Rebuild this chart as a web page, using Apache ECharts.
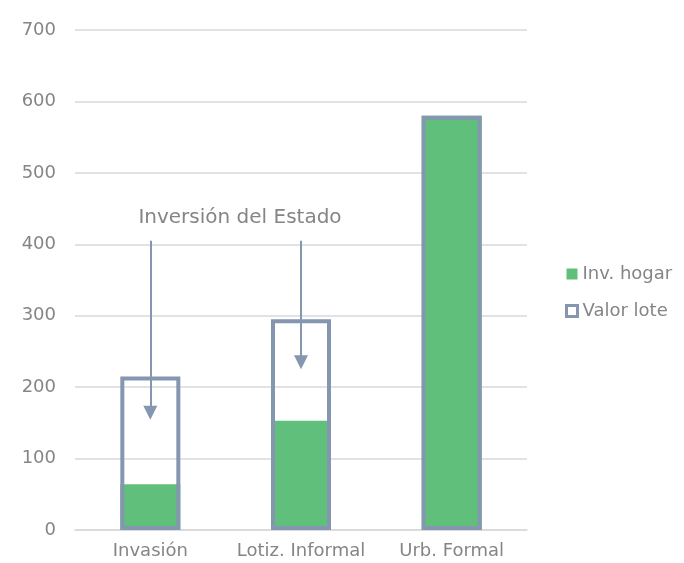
<!DOCTYPE html>
<html>
<head>
<meta charset="utf-8">
<script src="https://cdn.jsdelivr.net/npm/echarts@6/dist/echarts.min.js"></script>
<style>
  html, body { margin: 0; padding: 0; background: #fff; }
  #chart { width: 684px; height: 563px; }
</style>
</head>
<body>
<div id="chart"></div>
<script>
var categories = ['Invasión', 'Lotiz. Informal', 'Urb. Formal'];
var invHogar = [64, 153, 580];
var valorLote = [215, 295, 580];
// flechas "Inversión del Estado": [categoria, desde, hasta]
var arrows = [['Invasión', 405, 164], ['Lotiz. Informal', 405, 235]];

var green = '#60bf7b';
var slate = '#8496b0';
var txt = '#858585';
var font = 'DejaVu Sans';

var chart = echarts.init(document.getElementById('chart'));

chart.setOption({
  animation: false,
  grid: { left: 75, right: 157, top: 30, bottom: 33 },
  legend: {
    orient: 'vertical',
    left: 560,
    top: 260,
    itemGap: 19,
    itemWidth: 11,
    itemHeight: 11,
    textStyle: { color: txt, fontSize: 18, fontFamily: font, padding: [0, 0, 0, 0] },
    data: [
      { name: 'Inv. hogar', icon: 'rect', itemStyle: { color: green, borderWidth: 0 } },
      { name: 'Valor lote', icon: 'rect', itemStyle: { color: '#fff', borderColor: slate, borderWidth: 3 } }
    ]
  },
  xAxis: {
    type: 'category',
    data: categories,
    axisTick: { show: false },
    axisLine: { lineStyle: { color: '#d9d9d9', width: 1.5 } },
    axisLabel: { color: txt, fontSize: 18, fontFamily: font, margin: 12, interval: 0 }
  },
  yAxis: {
    type: 'value',
    min: 0,
    max: 700,
    interval: 100,
    axisLabel: { color: txt, fontSize: 18, fontFamily: font, margin: 19 },
    splitLine: { lineStyle: { color: '#d9d9d9', width: 1.5 } }
  },
  graphic: [{
    type: 'text',
    x: 240,
    y: 218,
    style: {
      text: 'Inversión del Estado',
      fill: txt,
      font: '20px ' + font,
      align: 'center',
      verticalAlign: 'middle'
    }
  }],
  series: [
    {
      name: 'Inv. hogar',
      type: 'bar',
      data: invHogar,
      barWidth: 60,
      itemStyle: { color: green }
    },
    {
      name: 'Valor lote',
      type: 'bar',
      data: valorLote,
      barWidth: 60,
      barGap: '-100%',
      itemStyle: { color: 'rgba(0,0,0,0)', borderColor: slate, borderWidth: 4 },
      markLine: {
        silent: true,
        symbol: ['none', 'triangle'],
        symbolSize: [14, 14],
        label: { show: false },
        lineStyle: { color: slate, width: 2, type: 'solid' },
        data: arrows.map(function (a) {
          return [{ coord: [a[0], a[1]] }, { coord: [a[0], a[2]] }];
        })
      }
    }
  ]
});
</script>
</body>
</html>
